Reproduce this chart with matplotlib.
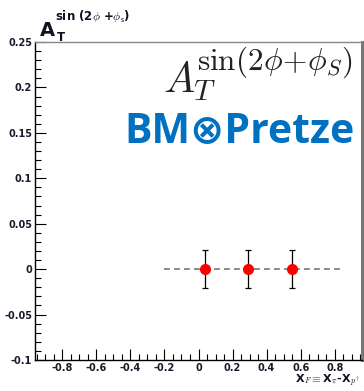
import matplotlib
matplotlib.use("Agg")
import matplotlib.pyplot as plt
from matplotlib.ticker import MultipleLocator, FuncFormatter

# data
x_vals = [0.04, 0.29, 0.55]
y_vals = [0.0, 0.0, 0.0]
y_err = [0.021, 0.021, 0.021]
line_x = [-0.2, 0.84]
line_y = [0.0, 0.0]
xlim = (-0.96, 0.96)
ylim = (-0.1, 0.25)

W, H = 364, 391
plt.rcParams["mathtext.fontset"] = "cm"
fig = plt.figure(figsize=(W/100, H/100), dpi=100)
ax = fig.add_axes([35/W, 31/H, 327/W, 318/H])

ax.plot(line_x, line_y, ls=(0, (3.5, 2.5)), color="#777777", lw=1.2, zorder=2)
ax.errorbar(x_vals, y_vals, yerr=y_err, fmt="o", color="red", markersize=7,
            ecolor="black", elinewidth=0.9, capsize=2.5, capthick=0.9, zorder=3)

ax.set_xlim(*xlim)
ax.set_ylim(*ylim)
ax.xaxis.set_major_locator(MultipleLocator(0.2))
ax.xaxis.set_minor_locator(MultipleLocator(0.05))
ax.yaxis.set_major_locator(MultipleLocator(0.05))
ax.yaxis.set_minor_locator(MultipleLocator(0.01))
fmt = FuncFormatter(lambda v, p: "0" if abs(v) < 1e-9 else ("%g" % round(v, 3)))
ax.xaxis.set_major_formatter(fmt)
ax.yaxis.set_major_formatter(fmt)
ax.tick_params(which="both", direction="in", top=False, right=False, color="black",
               width=0.8, labelsize=7, labelcolor="#1a1a2e")
ax.tick_params(which="major", length=8, pad=2)
ax.tick_params(which="minor", length=4)
for lab in ax.get_xticklabels() + ax.get_yticklabels():
    lab.set_fontweight("bold")
ax.spines["left"].set_color("black")
ax.spines["bottom"].set_color("black")
ax.spines["left"].set_linewidth(1.0)
ax.spines["bottom"].set_linewidth(1.0)
ax.spines["top"].set_color("#888888")
ax.spines["top"].set_linewidth(1.0)
ax.spines["right"].set_color("#777777")
ax.spines["right"].set_linewidth(2.2)

def px(x, y):
    return x / W, 1 - y / H

# title (ROOT-style)
fig.text(*px(40, 36), "A", fontsize=14, fontweight="bold", color="#111122",
         family="DejaVu Sans")
fig.text(*px(57, 41), "T", fontsize=8.5, fontweight="bold", color="#111122")
fig.text(*px(55, 21), r"sin (2$\mathsf{\phi}$ +$\mathsf{\phi_{s}}$)", fontsize=8.5,
         fontweight="bold", color="#111122")

# big latex label
fig.text(*px(163, 92), r"$A$", fontsize=30, color="#222222", va="baseline")
fig.text(*px(193, 100), r"$T$", fontsize=21, color="#222222", va="baseline")
fig.text(*px(197, 70), r"$\sin(2\phi\!+\!\phi_S)$", fontsize=22.5, color="#222222",
         va="baseline")

# logo text
fig.text(*px(355, 143), "BM\u2297Pretze", fontsize=29.5, fontweight="bold",
         color="#0070C0", ha="right", va="baseline",
         family=["Open Sans", "DejaVu Sans"])

# x label
fig.text(0.99, 0.005, r"X$_F$$\equiv$X$_\pi$-X$_{p^\uparrow}$", fontsize=8,
         fontweight="bold", ha="right", va="bottom", color="#111122")

fig.savefig("out.png", dpi=100)
